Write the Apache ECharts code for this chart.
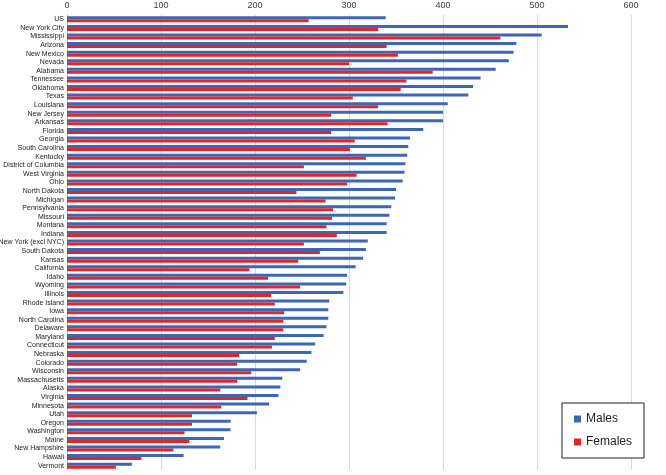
<!DOCTYPE html>
<html>
<head>
<meta charset="utf-8">
<script src="https://cdn.jsdelivr.net/npm/echarts@6/dist/echarts.min.js"></script>
<style>
  html, body { margin: 0; padding: 0; background: #fff; }
  #chart { width: 666px; height: 475px; }
</style>
</head>
<body>
<div id="chart"></div>
<script>
const states = ['US', 'New York City', 'Mississippi', 'Arizona', 'New Mexico', 'Nevada', 'Alabama', 'Tennessee',
  'Oklahoma', 'Texas', 'Louisiana', 'New Jersey', 'Arkansas', 'Florida', 'Georgia', 'South Carolina', 'Kentucky',
  'District of Columbia', 'West Virginia', 'Ohio', 'North Dakota', 'Michigan', 'Pennsylvania', 'Missouri', 'Montana',
  'Indiana', 'New York (excl NYC)', 'South Dakota', 'Kansas', 'California', 'Idaho', 'Wyoming', 'Illinois',
  'Rhode Island', 'Iowa', 'North Carolina', 'Delaware', 'Maryland', 'Connecticut', 'Nebraska', 'Colorado',
  'Wisconsin', 'Massachusetts', 'Alaska', 'Virginia', 'Minnesota', 'Utah', 'Oregon', 'Washington', 'Maine',
  'New Hampshire', 'Hawaii', 'Vermont']

const males = [339, 533, 505, 478, 475, 470, 456, 440,
  432, 427, 405, 400, 400, 379, 365, 363, 362,
  360, 359, 357, 350, 349, 345, 343, 340,
  340, 320, 318, 315, 307, 298, 297, 294,
  279, 278, 278, 276, 273, 264, 260, 255,
  248, 229, 227, 225, 215, 202, 174, 174, 167,
  163, 124, 69]

const females = [257, 331, 461, 340, 352, 300, 389, 361,
  355, 304, 331, 281, 341, 281, 306, 301, 318,
  252, 308, 298, 244, 275, 283, 282, 276,
  287, 252, 269, 246, 194, 214, 248, 217,
  221, 231, 230, 230, 221, 218, 183, 181,
  196, 181, 163, 192, 164, 133, 133, 125, 130,
  113, 79, 52]

const xTicks = { min: 0, max: 600, step: 100 }

const chart = echarts.init(document.getElementById('chart'))

const labelFont = "'Liberation Sans Narrow', 'Liberation Sans', sans-serif"

const option = {
  animation: false,
  grid: { left: 67, right: 35, top: 15, bottom: 5, containLabel: false, outerBoundsMode: 'none' },
  legend: {
    orient: 'vertical',
    right: 22,
    top: 403,
    data: ['Males', 'Females'],
    icon: 'rect',
    itemWidth: 7,
    itemHeight: 7,
    itemGap: 11,
    padding: [10, 12, 10, 12],
    borderColor: '#222',
    borderWidth: 1,
    backgroundColor: '#fff',
    textStyle: { fontSize: 12, color: '#222', fontFamily: labelFont }
  },
  xAxis: {
    type: 'value',
    position: 'top',
    min: xTicks.min,
    max: xTicks.max,
    interval: xTicks.step,
    axisLine: { show: false },
    axisTick: { show: false },
    axisLabel: { fontSize: 9, color: '#404040', margin: 5, fontFamily: labelFont },
    splitLine: { lineStyle: { color: '#D9D9D9', width: 1 } }
  },
  yAxis: {
    type: 'category',
    inverse: true,
    data: states,
    axisLine: { lineStyle: { color: '#BFBFBF' } },
    axisTick: { show: false },
    axisLabel: { fontSize: 7, color: '#222', margin: 3, interval: 0, fontFamily: labelFont }
  },
  series: [
    {
      name: 'Males',
      type: 'bar',
      data: males,
      barWidth: 3,
      barGap: '0%',
      itemStyle: { color: '#3D66B3' }
    },
    {
      name: 'Females',
      type: 'bar',
      data: females,
      barWidth: 3,
      itemStyle: { color: '#E3242B' }
    }
  ]
}

chart.setOption(option)
</script>
</body>
</html>
